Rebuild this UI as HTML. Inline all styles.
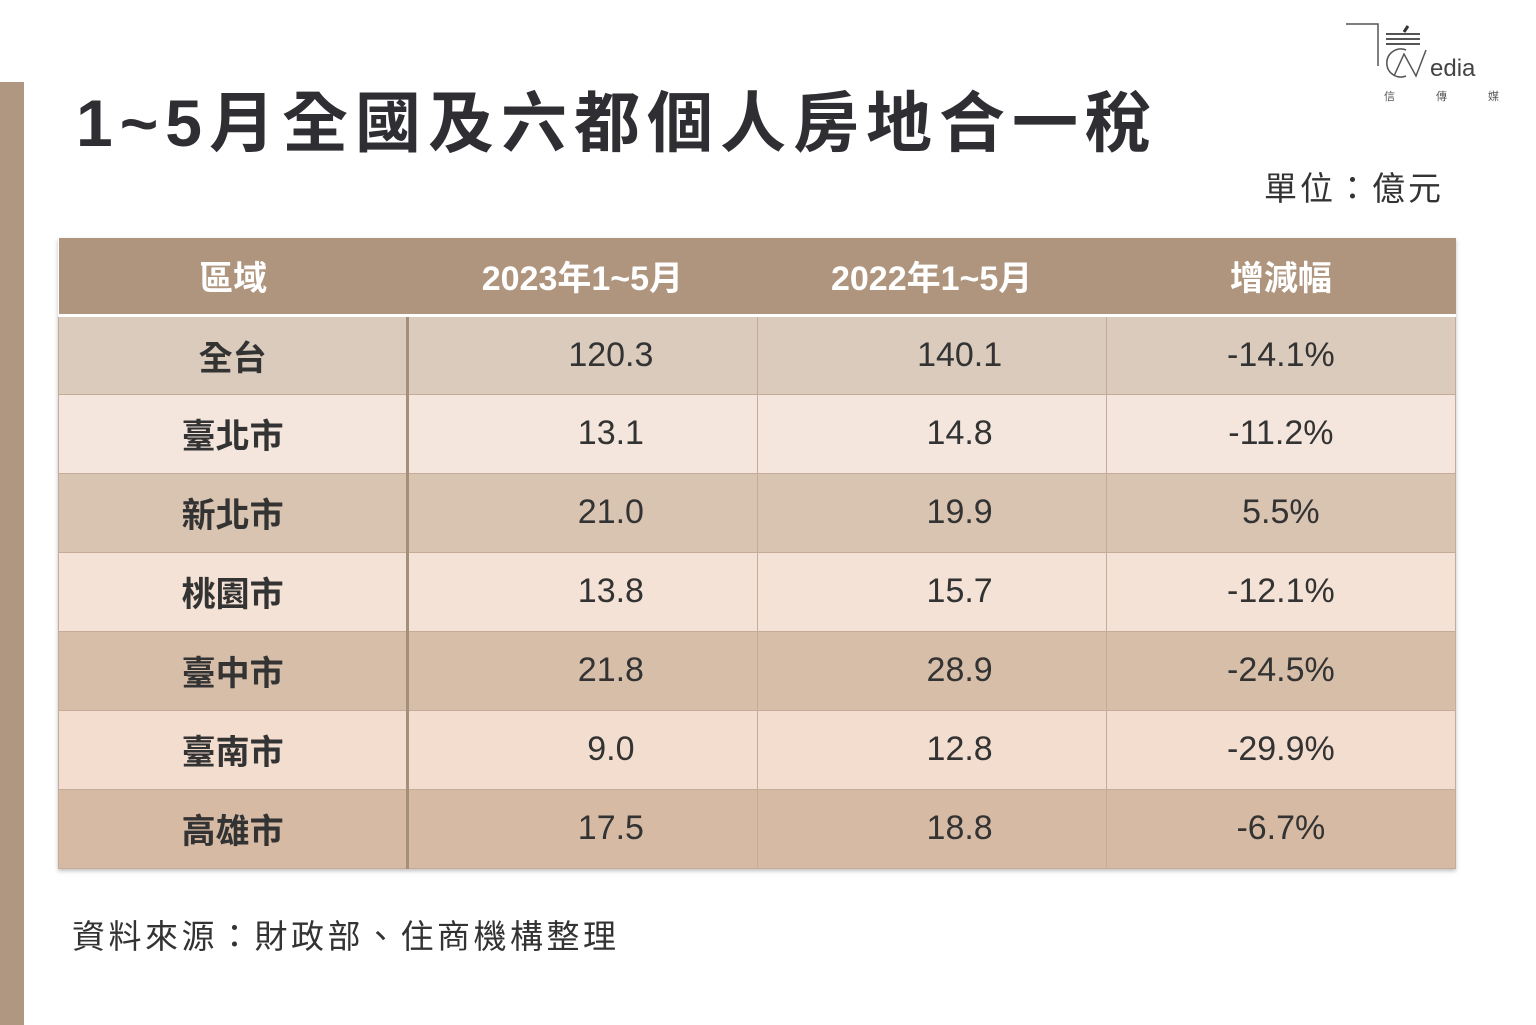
<!DOCTYPE html>
<html><head><meta charset="utf-8"><style>
body{margin:0;width:1536px;height:1025px;background:#fff;position:relative;overflow:hidden;font-family:"Liberation Sans","Noto Sans CJK TC",sans-serif;}
.bar{position:absolute;left:0;top:82px;width:24px;height:943px;background:#af9782;}
.title{position:absolute;left:76px;top:70px;font-size:66px;font-weight:bold;color:#2f2f33;letter-spacing:7px;white-space:nowrap;}
.unit{position:absolute;left:1264px;top:162px;font-size:33px;color:#333;letter-spacing:3px;}
.src{position:absolute;left:72px;top:910px;font-size:33px;color:#333;letter-spacing:3.5px;}
table{position:absolute;left:58px;top:238px;border-collapse:collapse;box-shadow:0 2px 4px rgba(0,0,0,.25);table-layout:fixed;width:1398px;}
td,th{width:349px;text-align:center;font-size:34px;color:#333;padding:0;box-sizing:border-box;}
th{height:77px;background:#af957d;color:#fff;font-weight:bold;border-bottom:3px solid #fff;}
td{height:79px;border:1px solid #c4ac98;}
td:first-child{font-weight:bold;border-right:3px solid #a58e7a;}
td:nth-child(2),td:nth-child(3){padding-left:56px;}
.logo{position:absolute;left:1346px;top:20px;width:160px;height:90px;}
</style></head><body>
<div class="bar"></div>
<div class="title">1~5月全國及六都個人房地合一稅</div>
<div class="unit">單位：億元</div>
<svg class="logo" viewBox="0 0 160 90">
<path d="M0 4H32V46" stroke="#555" fill="none" stroke-width="1.5"/>
<path d="M40 14h34M40 19h34M40 24h34" stroke="#555" stroke-width="2"/>
<path d="M62 6l-4 6" stroke="#333" stroke-width="3"/>
<path d="M60 30a14 14 0 1 0 0 26" stroke="#555" fill="none" stroke-width="1.5"/>
<path d="M48 56L58 34 70 56 80 30" stroke="#555" fill="none" stroke-width="1.5"/>
<text x="84" y="56" font-size="24" fill="#444" font-family="Liberation Sans">edia</text>
<text x="38" y="80" font-size="11" fill="#555">信</text>
<text x="90" y="80" font-size="11" fill="#555">傳</text>
<text x="142" y="80" font-size="11" fill="#555">媒</text>
</svg>
<table>
<tr><th>區域</th><th>2023年1~5月</th><th>2022年1~5月</th><th>增減幅</th></tr>
<tr style="background:#dacbbd"><td>全台</td><td>120.3</td><td>140.1</td><td>-14.1%</td></tr>
<tr style="background:#f4e6dc"><td>臺北市</td><td>13.1</td><td>14.8</td><td>-11.2%</td></tr>
<tr style="background:#d9c4b2"><td>新北市</td><td>21.0</td><td>19.9</td><td>5.5%</td></tr>
<tr style="background:#f4e2d6"><td>桃園市</td><td>13.8</td><td>15.7</td><td>-12.1%</td></tr>
<tr style="background:#d7bea9"><td>臺中市</td><td>21.8</td><td>28.9</td><td>-24.5%</td></tr>
<tr style="background:#f2ddcf"><td>臺南市</td><td>9.0</td><td>12.8</td><td>-29.9%</td></tr>
<tr style="background:#d6baa4"><td>高雄市</td><td>17.5</td><td>18.8</td><td>-6.7%</td></tr>
</table>
<div class="src">資料來源：財政部、住商機構整理</div>
</body></html>
